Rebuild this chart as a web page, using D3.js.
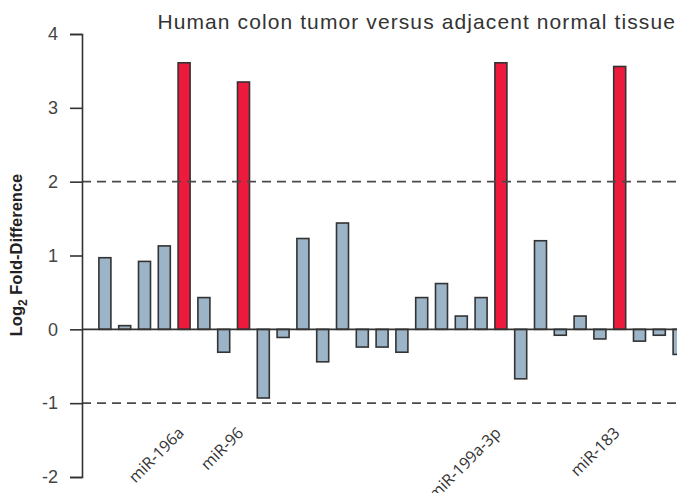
<!DOCTYPE html>
<html>
<head>
<meta charset="utf-8">
<script src="https://cdn.jsdelivr.net/npm/d3@7"></script>
<style>
  body { margin: 0; background: #fff; }
  svg { display: block; }
</style>
</head>
<body>
<div id="chart"></div>
<script>
// miRNA labels (only four are named on the x-axis)
var labels = ["", "", "", "", "miR-196a", "", "", "miR-96", "", "",
              "", "", "", "", "", "", "", "", "", "",
              "miR-199a-3p", "", "", "", "", "", "miR-183", "", "", ""];

// log2 fold-difference, tumor vs normal
var values = [0.97, 0.05, 0.92, 1.13, 3.61, 0.43, -0.31, 3.35, -0.93, -0.11,
              1.23, -0.44, 1.44, -0.24, -0.24, -0.31, 0.43, 0.62, 0.18, 0.43,
              3.61, -0.67, 1.20, -0.08, 0.18, -0.13, 3.56, -0.16, -0.08, -0.34];

var yTicks = [-2, -1, 0, 1, 2, 3, 4];
var cutoffs = [2, -1];

var w = 677, h = 493;

var svg = d3.select("#chart").append("svg")
    .attr("width", w)
    .attr("height", h);

// x scale over bar indices; the last bar runs off the right edge
var xScale = d3.scaleBand()
    .domain(d3.range(values.length))
    .range([95, 689])
    .paddingInner(0.394)
    .paddingOuter(0.197);

var yScale = d3.scaleLinear()
    .domain([-2, 4])
    .range([477, 34]);

// bars
svg.append("g")
    .selectAll("rect")
    .data(values)
    .enter()
    .append("rect")
    .attr("x", (d, i) => xScale(i))
    .attr("y", d => yScale(Math.max(0, d)))
    .attr("width", xScale.bandwidth())
    .attr("height", d => Math.abs(yScale(d) - yScale(0)))
    .attr("fill", d => d > cutoffs[0] ? "#ee1a3d" : "#9bb4c8")
    .attr("stroke", "#333")
    .attr("stroke-width", 1.6);

// zero line
svg.append("line")
    .attr("x1", 82).attr("x2", w)
    .attr("y1", yScale(0)).attr("y2", yScale(0))
    .attr("stroke", "#333")
    .attr("stroke-width", 1.6);

// dashed cut-off lines, drawn over the bars
svg.append("g")
    .selectAll("line")
    .data(cutoffs)
    .enter()
    .append("line")
    .attr("x1", 82).attr("x2", w)
    .attr("y1", d => yScale(d)).attr("y2", d => yScale(d))
    .attr("stroke", "#4a4a4a")
    .attr("stroke-width", 1.8)
    .attr("stroke-dasharray", "9,6");

// y axis
var yAxis = svg.append("g")
    .attr("transform", "translate(82,0)")
    .call(d3.axisLeft(yScale)
        .tickValues(yTicks)
        .tickFormat(d => String(d))
        .tickSize(12)
        .tickPadding(12));

yAxis.select(".domain").attr("stroke", "#333").attr("stroke-width", 1.6);
yAxis.selectAll(".tick line").attr("stroke", "#333").attr("stroke-width", 1.6);
yAxis.selectAll(".tick text")
    .attr("fill", "#444")
    .style("font-family", "'Liberation Sans', Arial, sans-serif")
    .style("font-size", "18px");

// y axis title with subscript 2
var yTitle = svg.append("text")
    .attr("transform", "translate(22,255) rotate(-90)")
    .attr("text-anchor", "middle")
    .attr("fill", "#222")
    .style("font-family", "'Liberation Sans', Arial, sans-serif")
    .style("font-size", "16.5px")
    .style("font-weight", "bold");
yTitle.append("tspan").text("Log");
yTitle.append("tspan").attr("dy", 5).style("font-size", "12px").text("2");
yTitle.append("tspan").attr("dy", -5).text(" Fold-Difference");

// rotated miRNA labels under the red bars
svg.append("g")
    .selectAll("text")
    .data(labels.map((l, i) => ({ l: l, i: i })).filter(d => d.l !== ""))
    .enter()
    .append("text")
    .attr("transform", d => `translate(${xScale(d.i) + xScale.bandwidth() / 2 + 1},434) rotate(-45)`)
    .attr("text-anchor", "end")
    .attr("fill", "#333")
    .style("font-family", "'Open Sans', sans-serif")
    .style("font-size", "16px")
    .text(d => d.l);

// chart title
svg.append("text")
    .attr("x", 676)
    .attr("y", 29)
    .attr("text-anchor", "end")
    .attr("fill", "#333")
    .style("font-family", "'Liberation Sans', Arial, sans-serif")
    .style("font-size", "21px")
    .style("letter-spacing", "1.1px")
    .text("Human colon tumor versus adjacent normal tissue");
</script>
</body>
</html>
